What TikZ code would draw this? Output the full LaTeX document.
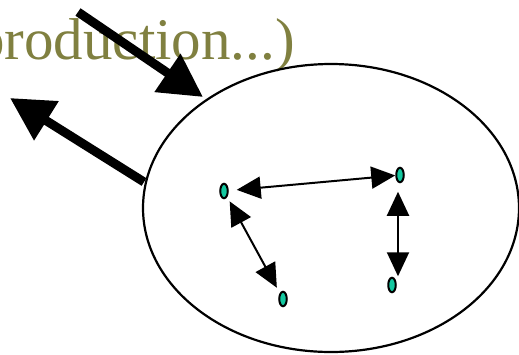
\documentclass[tikz,border=0pt]{standalone}
\usepackage{fontspec}
\setmainfont{Liberation Serif}
\usetikzlibrary{arrows.meta,shapes.geometric}
\definecolor{olivetext}{RGB}{128,128,64}
\definecolor{agentfill}{RGB}{20,200,160}

\begin{document}
\begin{tikzpicture}[
  x=1pt, y=-1pt,
  cell/.style={ellipse, draw=black, line width=2.2pt, minimum width=376pt, minimum height=288pt, inner sep=0pt},
  agent/.style={ellipse, draw=black, line width=2pt, fill=agentfill, minimum width=7.5pt, minimum height=14.5pt, inner sep=0pt},
  flow/.style={line width=9pt, -{Triangle[length=43pt, width=44pt]}},
  link/.style={line width=2pt, {Triangle[length=24pt, width=22pt]}-{Triangle[length=24pt, width=22pt]}},
  lab/.style={font=\fontsize{59}{64}\selectfont, text=olivetext, inner sep=0pt},
]
\clip (0,0) rectangle (519,354);
\node[lab, anchor=base east] (title) at (295,59) {(production...)};
\node[cell] (body) at (331,208) {};
\node[agent] (a1) at (224,191) {};
\node[agent] (a2) at (400,175) {};
\node[agent] (a3) at (283,299) {};
\node[agent] (a4) at (392,285) {};
\coordinate (inflow) at (78,12);
\coordinate (inhead) at (203,97);
\coordinate (outflow) at (144,182);
\coordinate (outhead) at (10,98);
\draw[flow] (inflow) -- (inhead);
\draw[flow] (outflow) -- (outhead);
\draw[link, shorten <=8pt, shorten >=0pt] (a1) -- (a2);
\draw[link, shorten <=5pt, shorten >=6pt] (a1) -- (a3);
\draw[link, shorten <=8.5pt, shorten >=0.5pt] ([xshift=-2pt]a2.south) -- ([xshift=-2pt]a2.south |- a4.north);
\end{tikzpicture}
\end{document}
